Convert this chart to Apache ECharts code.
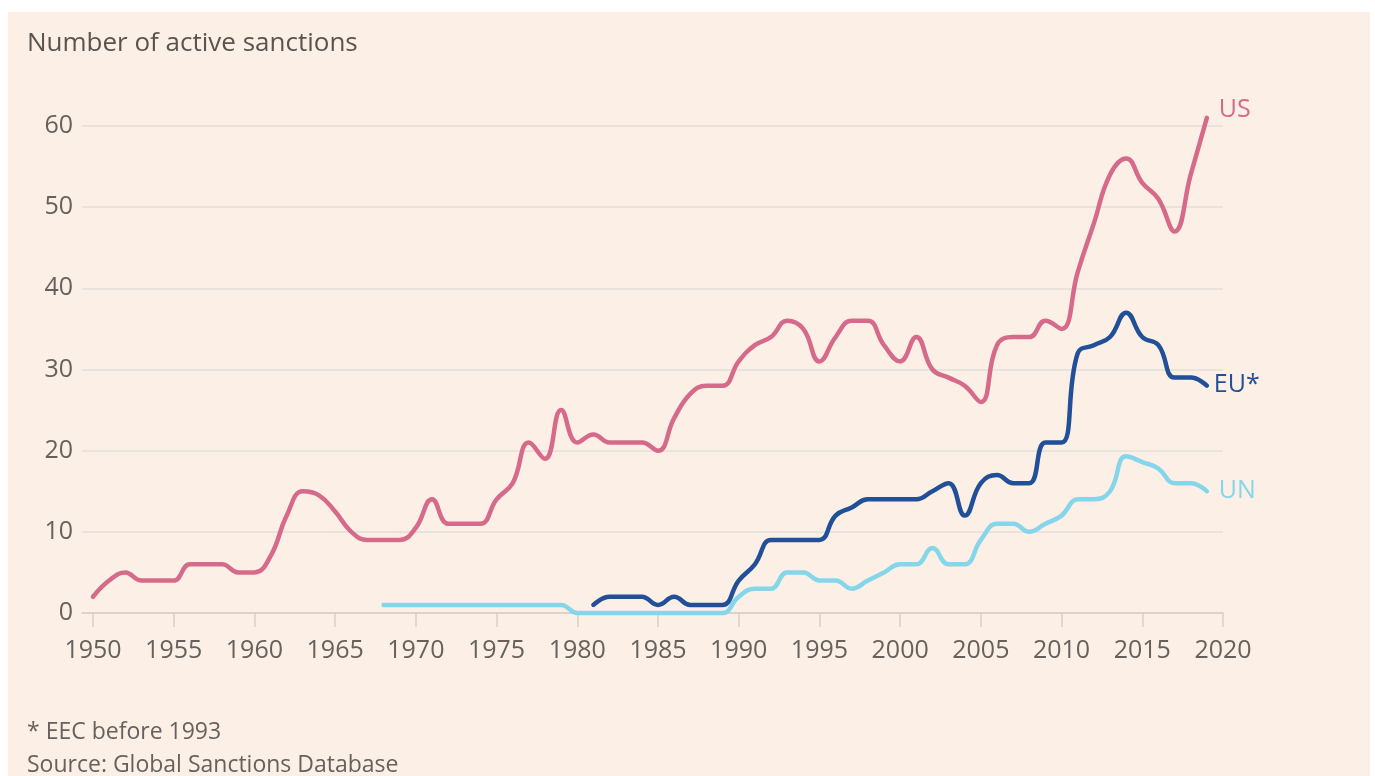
<!DOCTYPE html>
<html>
<head>
<meta charset="utf-8">
<script src="https://cdn.jsdelivr.net/npm/echarts@6/dist/echarts.min.js"></script>
<style>
	html, body { margin: 0; padding: 0; background: #ffffff; }
	#paper { position: absolute; left: 8px; top: 12px; width: 1362px; height: 764px; background: #fcf0e6; }
	#main { position: absolute; left: 0; top: 0; width: 1375px; height: 776px; }
</style>
</head>
<body>
<div id="paper"></div>
<div id="main"></div>
<script>
	// years on the x axis
	var years = [];
	for (var y = 1950; y <= 2019; y++) years.push(y);

	var tickYears = [1950, 1955, 1960, 1965, 1970, 1975, 1980, 1985, 1990, 1995, 2000, 2005, 2010, 2015, 2020];

	// 1950 - 2019
	var usValues = [
		2, 4, 5, 4, 4, 4, 6, 6, 6, 5,
		5, 7, 12, 15, 14.5, 12.5, 10, 9, 9, 9,
		10.5, 14, 11, 11, 11, 14, 16, 21, 19, 25,
		21, 22, 21, 21, 21, 20, 24, 27, 28, 28,
		31, 33, 34, 36, 35, 31, 34, 36, 36, 33,
		31, 34, 30, 29, 28, 26, 33, 34, 34, 36,
		35, 42, 48, 54, 56, 53, 51, 47, 54, 61
	];

	// 1981 - 2019 (EEC before 1993)
	var euStart = 1981;
	var euValues = [
		1, 2, 2, 2, 1, 2, 1, 1, 1,
		4, 6, 9, 9, 9, 9, 12, 13, 14, 14,
		14, 14, 15, 16, 12, 16, 17, 16, 16, 21,
		21, 32, 33, 34, 37, 34, 33, 29, 29, 28
	];

	// 1968 - 2019
	var unStart = 1968;
	var unValues = [
		1, 1, 1, 1, 1, 1, 1, 1, 1, 1, 1, 1,
		0, 0, 0, 0, 0, 0, 0, 0, 0, 0,
		2, 3, 3, 5, 5, 4, 4, 3, 4, 5,
		6, 6, 8, 6, 6, 9, 11, 11, 10, 11,
		12, 14, 14, 15, 19.3, 18.6, 17.8, 16, 16, 15
	];

	var FONT = '"Open Sans", sans-serif';
	var GREY = '#66615d';

	function pairs(start, values) {
		var out = [];
		for (var i = 0; i < values.length; i++) {
			out.push([start + i, values[i]]);
		}
		return out;
	}

	function lineSeries(name, data, color, labelOffset) {
		return {
			name: name,
			type: 'line',
			data: data,
			smooth: 0.45,
			showSymbol: false,
			clip: false,
			lineStyle: {
				width: 4.5,
				color: color,
				cap: 'round'
			},
			endLabel: {
				show: true,
				formatter: '{a}',
				color: color,
				fontFamily: FONT,
				fontSize: 25,
				distance: 7,
				offset: labelOffset
			}
		}
	}

	var myChart = echarts.init(document.getElementById('main'));
	var option = {
		animation: false,
		backgroundColor: 'transparent',
		textStyle: {
			fontFamily: FONT
		},
		title: [{
				text: 'Number of active sanctions',
				left: 22,
				top: 26,
				textStyle: {
					fontFamily: FONT,
					fontSize: 26,
					fontWeight: 'normal',
					color: '#59544f'
				}
			},
			{
				text: '* EEC before 1993',
				left: 22,
				top: 716,
				textStyle: {
					fontFamily: FONT,
					fontSize: 23,
					fontWeight: 'normal',
					color: '#66615d'
				}
			},
			{
				text: 'Source: Global Sanctions Database',
				left: 22,
				top: 749,
				textStyle: {
					fontFamily: FONT,
					fontSize: 23,
					fontWeight: 'normal',
					color: '#66615d'
				}
			}
		],
		grid: {
			left: 82,
			right: 152,
			top: 126,
			bottom: 163
		},
		xAxis: {
			type: 'value',
			min: 1949.32,
			max: 2020,
			splitLine: {
				show: false
			},
			axisLine: {
				lineStyle: {
					color: '#d3cfcb',
					width: 1.5
				}
			},
			axisTick: {
				customValues: tickYears,
				length: 14,
				lineStyle: {
					color: '#d3cfcb',
					width: 1.5
				}
			},
			axisLabel: {
				customValues: tickYears,
				formatter: function (v) {
					return String(v)
				},
				color: GREY,
				fontFamily: FONT,
				fontSize: 25,
				margin: 25
			}
		},
		yAxis: {
			type: 'value',
			min: 0,
			max: 60,
			interval: 10,
			axisLine: {
				show: false
			},
			axisTick: {
				show: false
			},
			splitLine: {
				lineStyle: {
					color: '#e3dfdb',
					width: 1.5
				}
			},
			axisLabel: {
				color: GREY,
				fontFamily: FONT,
				fontSize: 25,
				margin: 9
			}
		},
		series: [
			lineSeries('UN', pairs(unStart, unValues), '#85d6ea', [5, 0]),
			lineSeries('EU*', pairs(euStart, euValues), '#214f98', [0, -1]),
			lineSeries('US', pairs(years[0], usValues), '#d56a8b', [5, -8])
		]
	};

	option && myChart.setOption(option);
</script>
</body>
</html>
